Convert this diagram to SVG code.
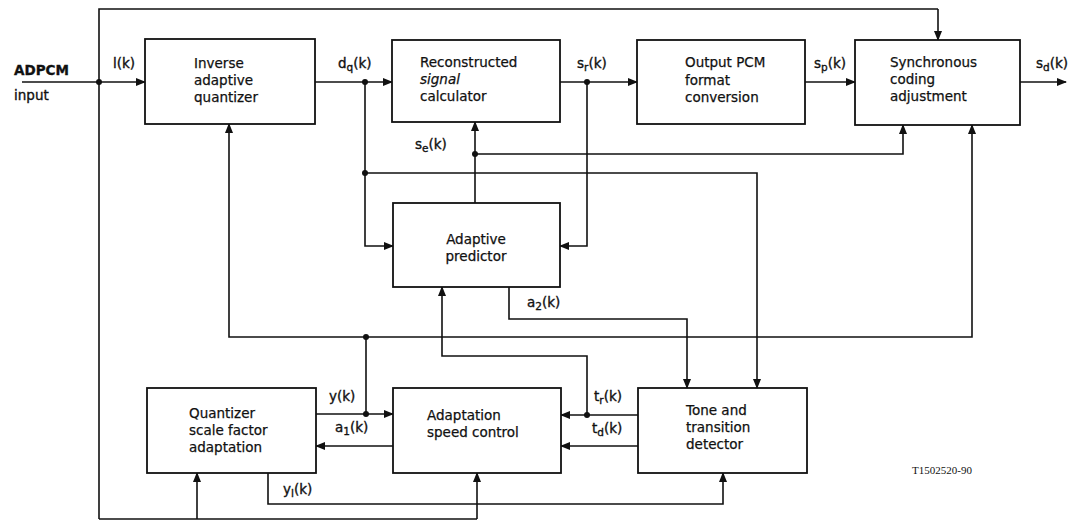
<svg xmlns="http://www.w3.org/2000/svg" width="1076" height="522" viewBox="0 0 1076 522">
<style>
.box{fill:#fff;stroke:#111;stroke-width:1.8}
.ln{fill:none;stroke:#111;stroke-width:1.6}
.arr{marker-end:url(#ah)}
.t{font-family:"DejaVu Sans",sans-serif;font-size:13.5px;fill:#111;stroke:#111;stroke-width:0.25}
.lb{font-family:"DejaVu Sans",sans-serif;font-size:13.5px;fill:#111;stroke:#111;stroke-width:0.35}
.sub{font-size:10.5px}
.dot{fill:#111}
</style>
<defs>
<marker id="ah" markerWidth="10" markerHeight="8" refX="9" refY="4" orient="auto" markerUnits="userSpaceOnUse">
<path d="M0,0 L10,4 L0,8 Z" fill="#111"/>
</marker>
</defs>
<rect width="1076" height="522" fill="#fff"/>
<g id="connectors">
<path class="ln arr" d="M22,82 H145"/>
<path class="ln" d="M99,519 V9 H938"/>
<path class="ln arr" d="M938,9 V40"/>
<path class="ln arr" d="M315,82 H392"/>
<path class="ln arr" d="M365,82 V246 H393"/>
<path class="ln arr" d="M365,173 H757 V388"/>
<path class="ln arr" d="M560,82 H637"/>
<path class="ln arr" d="M587,82 V246 H560"/>
<path class="ln arr" d="M805,82 H855"/>
<path class="ln arr" d="M1020,82 H1066"/>
<path class="ln arr" d="M475,203 V122"/>
<path class="ln arr" d="M475,154 H903 V125"/>
<path class="ln arr" d="M509,287 V319 H687 V388"/>
<path class="ln arr" d="M366,337 H229 V124"/>
<path class="ln arr" d="M366,337 H972 V125"/>
<path class="ln" d="M366,337 V414"/>
<path class="ln arr" d="M316,414 H393"/>
<path class="ln arr" d="M393,446 H316"/>
<path class="ln arr" d="M638,415 H561"/>
<path class="ln arr" d="M587,415 V356 H442 V287"/>
<path class="ln arr" d="M638,446 H561"/>
<path class="ln arr" d="M268,473 V504 H723 V473"/>
<path class="ln" d="M99,519 H477"/>
<path class="ln arr" d="M197,519 V473"/>
<path class="ln arr" d="M477,519 V473"/>
<circle class="dot" cx="99" cy="82" r="3"/>
<circle class="dot" cx="365" cy="82" r="3"/>
<circle class="dot" cx="365" cy="173" r="3"/>
<circle class="dot" cx="587" cy="82" r="3"/>
<circle class="dot" cx="475" cy="154" r="3"/>
<circle class="dot" cx="366" cy="337" r="3"/>
<circle class="dot" cx="366" cy="414" r="3"/>
<circle class="dot" cx="587" cy="415" r="3"/>
</g>
<g id="labels">
<text class="lb" x="14" y="75" font-weight="bold">ADPCM</text>
<text class="lb" x="14" y="100">input</text>
<text class="lb" x="113" y="68">l(k)</text>
<text class="lb" x="338" y="68">d<tspan class="sub" dy="3">q</tspan><tspan dy="-3">(k)</tspan></text>
<text class="lb" x="577" y="68">s<tspan class="sub" dy="3">r</tspan><tspan dy="-3">(k)</tspan></text>
<text class="lb" x="814" y="68">s<tspan class="sub" dy="3">p</tspan><tspan dy="-3">(k)</tspan></text>
<text class="lb" x="1036" y="68">s<tspan class="sub" dy="3">d</tspan><tspan dy="-3">(k)</tspan></text>
<text class="lb" x="415" y="149">s<tspan class="sub" dy="3">e</tspan><tspan dy="-3">(k)</tspan></text>
<text class="lb" x="527" y="307">a<tspan class="sub" dy="3">2</tspan><tspan dy="-3">(k)</tspan></text>
<text class="lb" x="329" y="401">y(k)</text>
<text class="lb" x="335" y="432">a<tspan class="sub" dy="3">1</tspan><tspan dy="-3">(k)</tspan></text>
<text class="lb" x="594" y="401">t<tspan class="sub" dy="3">r</tspan><tspan dy="-3">(k)</tspan></text>
<text class="lb" x="592" y="433">t<tspan class="sub" dy="3">d</tspan><tspan dy="-3">(k)</tspan></text>
<text class="lb" x="283" y="494">y<tspan class="sub" dy="3">l</tspan><tspan dy="-3">(k)</tspan></text>
<text x="912" y="474" font-family="Liberation Serif, serif" font-size="11" fill="#111">T1502520-90</text>
</g>
<g id="inverse-quantizer">
<rect class="box" x="145" y="39" width="170" height="85"/>
<text class="t" x="194" y="68">Inverse</text>
<text class="t" x="194" y="85">adaptive</text>
<text class="t" x="194" y="102">quantizer</text>
</g>
<g id="reconstructed-signal">
<rect class="box" x="392" y="40" width="168" height="82"/>
<text class="t" x="420" y="67">Reconstructed</text>
<text class="t" x="420" y="84" font-style="italic">signal</text>
<text class="t" x="420" y="101">calculator</text>
</g>
<g id="output-pcm">
<rect class="box" x="637" y="40" width="168" height="84"/>
<text class="t" x="685" y="67">Output PCM</text>
<text class="t" x="685" y="85">format</text>
<text class="t" x="685" y="102">conversion</text>
</g>
<g id="synchronous-coding">
<rect class="box" x="855" y="40" width="165" height="85"/>
<text class="t" x="890" y="67">Synchronous</text>
<text class="t" x="890" y="84">coding</text>
<text class="t" x="890" y="101">adjustment</text>
</g>
<g id="adaptive-predictor">
<rect class="box" x="393" y="203" width="167" height="84"/>
<text class="t" x="476" y="244" text-anchor="middle">Adaptive</text>
<text class="t" x="476" y="261" text-anchor="middle">predictor</text>
</g>
<g id="quantizer-scale">
<rect class="box" x="147" y="388" width="169" height="85"/>
<text class="t" x="189" y="418">Quantizer</text>
<text class="t" x="189" y="435">scale factor</text>
<text class="t" x="189" y="452">adaptation</text>
</g>
<g id="adaptation-speed">
<rect class="box" x="393" y="388" width="168" height="85"/>
<text class="t" x="427" y="420">Adaptation</text>
<text class="t" x="427" y="437">speed control</text>
</g>
<g id="tone-detector">
<rect class="box" x="638" y="388" width="169" height="85"/>
<text class="t" x="686" y="415">Tone and</text>
<text class="t" x="686" y="432">transition</text>
<text class="t" x="686" y="449">detector</text>
</g>
</svg>
